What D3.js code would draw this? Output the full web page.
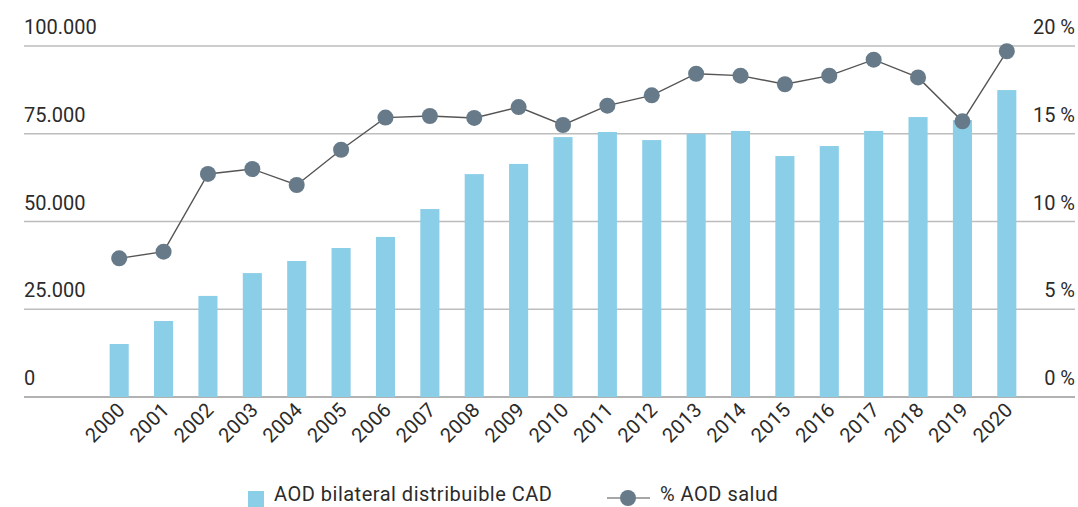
<!DOCTYPE html>
<html>
<head>
<meta charset="utf-8">
<script src="https://cdn.jsdelivr.net/npm/d3@7"></script>
<style>
  body { margin: 0; background: #fff; }
  svg text { font-family: Roboto, "Noto Sans", sans-serif; fill: #2b2b2b; }
</style>
</head>
<body>
<div id="chart"></div>
<script>
var years = ["2000","2001","2002","2003","2004","2005","2006","2007","2008","2009","2010",
             "2011","2012","2013","2014","2015","2016","2017","2018","2019","2020"];
var aodCad = [15100, 21650, 28800, 35300, 38750, 42450, 45600, 53550, 63500, 66400, 74050,
              75500, 73200, 75000, 75800, 68650, 71500, 75800, 79750, 78900, 87450];
var aodSalud = [7.9, 8.28, 12.71, 12.99, 12.08, 14.09, 15.92, 16.01, 15.9, 16.52, 15.5,
                16.6, 17.19, 18.42, 18.31, 17.82, 18.31, 19.22, 18.21, 15.71, 19.7];
var leftTicks = [0, 25000, 50000, 75000, 100000];
var rightTicks = [0, 5, 10, 15, 20];
var legendLabels = ["AOD bilateral distribuible CAD", "% AOD salud"];

function init() {
    var w = 1078;
    var h = 507;

    var svg = d3.select("#chart")
        .append("svg")
        .attr("width", w)
        .attr("height", h);

    var xScale = d3.scaleBand()
        .domain(years)
        .range([97, 1029])
        .paddingInner(0.57)
        .paddingOuter(0.285);

    var yLeft = d3.scaleLinear()
        .domain([0, 100000])
        .range([397, 46]);

    var yRight = d3.scaleLinear()
        .domain([0, 20])
        .range([397, 46]);

    var fmt = function(d) { return d3.format(",")(d).replace(/,/g, "."); };

    // gridlines + left labels
    svg.append("g")
        .selectAll("line")
        .data(leftTicks)
        .join("line")
        .attr("x1", 24)
        .attr("x2", 1075)
        .attr("y1", function(d) { return yLeft(d); })
        .attr("y2", function(d) { return yLeft(d); })
        .attr("stroke", function(d) { return d === 0 ? "#999" : "#bdbdbd"; })
        .attr("stroke-width", 1.5);

    svg.append("g")
        .selectAll("text")
        .data(leftTicks)
        .join("text")
        .attr("x", 24)
        .attr("y", function(d) { return yLeft(d) - 12; })
        .style("font-size", "20px")
        .text(fmt);

    svg.append("g")
        .selectAll("text")
        .data(rightTicks)
        .join("text")
        .attr("x", 1075)
        .attr("y", function(d) { return yRight(d) - 12; })
        .attr("text-anchor", "end")
        .style("font-size", "20px")
        .text(function(d) { return d + " %"; });

    // bars
    svg.append("g")
        .selectAll("rect")
        .data(aodCad)
        .join("rect")
        .attr("x", function(d, i) { return xScale(years[i]); })
        .attr("y", function(d) { return yLeft(d); })
        .attr("width", xScale.bandwidth())
        .attr("height", function(d) { return yLeft(0) - yLeft(d); })
        .attr("fill", "#8bcee8");

    // line
    var line = d3.line()
        .x(function(d, i) { return xScale(years[i]) + xScale.bandwidth() / 2; })
        .y(function(d) { return yRight(d); });

    svg.append("path")
        .datum(aodSalud)
        .attr("d", line)
        .attr("fill", "none")
        .attr("stroke", "#555")
        .attr("stroke-width", 1.4);

    svg.append("g")
        .selectAll("circle")
        .data(aodSalud)
        .join("circle")
        .attr("cx", function(d, i) { return xScale(years[i]) + xScale.bandwidth() / 2; })
        .attr("cy", function(d) { return yRight(d); })
        .attr("r", 8)
        .attr("fill", "#667a8a");

    // x labels
    svg.append("g")
        .selectAll("text")
        .data(years)
        .join("text")
        .attr("transform", function(d) {
            return "translate(" + (xScale(d) + xScale.bandwidth() / 2 + 7) + ",411) rotate(-45)";
        })
        .attr("text-anchor", "end")
        .style("font-size", "20px")
        .style("letter-spacing", "0.3px")
        .text(function(d) { return d; });

    // legend
    var lg = svg.append("g");
    lg.append("rect")
        .attr("x", 248).attr("y", 491)
        .attr("width", 16).attr("height", 16)
        .attr("fill", "#8bcee8");
    lg.append("text")
        .attr("x", 274).attr("y", 501)
        .style("font-size", "20px")
        .style("letter-spacing", "0.5px")
        .text(legendLabels[0]);
    lg.append("line")
        .attr("x1", 607).attr("x2", 650)
        .attr("y1", 498).attr("y2", 498)
        .attr("stroke", "#888")
        .attr("stroke-width", 1.5);
    lg.append("circle")
        .attr("cx", 628).attr("cy", 498)
        .attr("r", 8)
        .attr("fill", "#667a8a");
    lg.append("text")
        .attr("x", 660).attr("y", 501)
        .style("font-size", "20px")
        .style("letter-spacing", "0.5px")
        .text(legendLabels[1]);
}

window.onload = init;
</script>
</body>
</html>
